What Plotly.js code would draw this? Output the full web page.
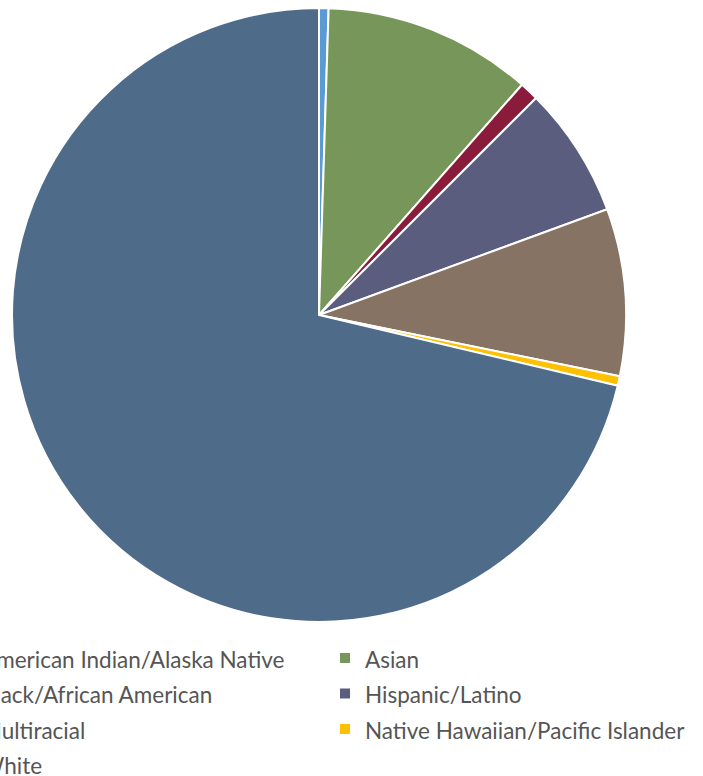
<!DOCTYPE html>
<html>
<head>
<meta charset="utf-8">
<script src="https://cdn.plot.ly/plotly-3.0.1.min.js"></script>
<style>
  html, body { margin: 0; padding: 0; overflow: hidden; background: #fff; width: 703px; height: 776px; }
  #chart { position: absolute; left: -71px; top: 0; width: 832px; height: 776px; }
</style>
</head>
<body>
<div id="chart"></div>
<script>
// Data (percent shares)
const categories = [
  "American Indian/Alaska Native",
  "Asian",
  "Black/African American",
  "Hispanic/Latino",
  "Multiracial",
  "Native Hawaiian/Pacific Islander",
  "White"
];
const values = [0.5, 11.0, 1.0, 6.9, 8.8, 0.5, 71.3];
const colors = ["#5B9BD5", "#77975A", "#8B1B3A", "#5A5D7E", "#877363", "#FFC000", "#4E6B8A"];

const legendLabels = categories.map(c => '<span style="font-size:22.5px">' + c + '</span>');

const trace = {
  type: "pie",
  labels: legendLabels,
  values: values,
  sort: false,
  direction: "clockwise",
  rotation: 0,
  textinfo: "none",
  hoverinfo: "none",
  marker: { colors: colors, line: { color: "#ffffff", width: 2 } },
  domain: { x: [0.09976, 0.83774], y: [0.19845, 0.98969] }
};

const layout = {
  width: 832,
  height: 776,
  margin: { l: 0, r: 0, t: 0, b: 0, autoexpand: false },
  paper_bgcolor: "#ffffff",
  showlegend: true,
  legend: {
    orientation: "h",
    x: 0.01442,
    xanchor: "left",
    y: 0.1814,
    yanchor: "top",
    entrywidth: 339,
    entrywidthmode: "pixels",
    font: { family: "Lato, 'Open Sans', sans-serif", size: 25, color: "#555555" },
    bgcolor: "rgba(0,0,0,0)"
  }
};

Plotly.newPlot("chart", [trace], layout, { displayModeBar: false, staticPlot: true });
</script>
</body>
</html>
